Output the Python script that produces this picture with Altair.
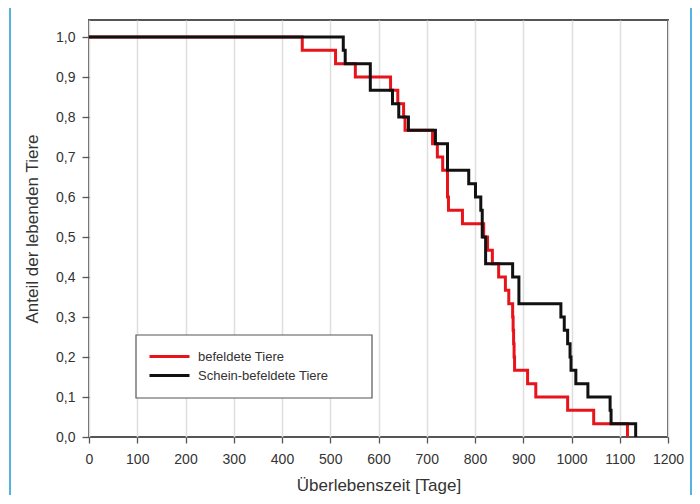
import altair as alt
import pandas as pd

series_names = ["befeldete Tiere", "Schein-befeldete Tiere"]
series_colors = ["#e8141b", "#111111"]

red_days = [0, 442, 511, 552, 625, 640, 652, 655, 712, 722, 733, 743, 745, 774, 818,
            826, 836, 849, 863, 870, 878, 879, 880, 881, 882, 909, 926, 992, 1046, 1116]
red_surv = [1.0, 0.967, 0.933, 0.9, 0.867, 0.833, 0.8, 0.767, 0.733, 0.7, 0.667, 0.6, 0.567,
            0.533, 0.5, 0.467, 0.433, 0.4, 0.367, 0.333, 0.3, 0.267, 0.233, 0.2, 0.167,
            0.133, 0.1, 0.067, 0.033, 0.0]

black_days = [0, 527, 531, 583, 629, 642, 662, 718, 743, 787, 801, 812, 815, 822, 878,
              891, 978, 985, 992, 997, 999, 1009, 1034, 1080, 1082, 1133]
black_surv = [1.0, 0.967, 0.933, 0.867, 0.833, 0.8, 0.767, 0.733, 0.667, 0.633, 0.6, 0.567,
              0.5, 0.433, 0.4, 0.333, 0.3, 0.267, 0.233, 0.2, 0.167, 0.133, 0.1, 0.067,
              0.033, 0.0]

x_ticks = [0, 100, 200, 300, 400, 500, 600, 700, 800, 900, 1000, 1100, 1200]
y_ticks = [0.0, 0.1, 0.2, 0.3, 0.4, 0.5, 0.6, 0.7, 0.8, 0.9, 1.0]

rows = []
for d, s in zip(red_days, red_surv):
    rows.append({"Tage": d, "Anteil": s, "Gruppe": series_names[0]})
for d, s in zip(black_days, black_surv):
    rows.append({"Tage": d, "Anteil": s, "Gruppe": series_names[1]})
df = pd.DataFrame(rows)

FONT = "Liberation Sans"

lines = alt.Chart(df).mark_line(interpolate="step-after", strokeWidth=3, clip=True).encode(
    x=alt.X("Tage:Q",
            scale=alt.Scale(domain=[0, 1200], nice=False, zero=True),
            axis=alt.Axis(values=x_ticks, format="d", labelOverlap=False, labelFlush=False,
                          title="Überlebenszeit [Tage]", grid=True,
                          gridColor="#dedede", gridWidth=1.5, domain=False,
                          tickColor="#555555", tickSize=6, tickWidth=1.3,
                          labelFontSize=14, labelColor="#333333", labelPadding=9,
                          labelFont=FONT, titleFont=FONT, titleFontSize=17,
                          titleFontWeight="normal", titleColor="#333333", titlePadding=11)),
    y=alt.Y("Anteil:Q",
            scale=alt.Scale(domain=[0, 1.0425], nice=False, zero=True),
            axis=alt.Axis(values=y_ticks, title="Anteil der lebenden Tiere", grid=False,
                          labelExpr="replace(format(datum.value, '.1f'), '.', ',')",
                          labelOverlap=False, labelFlush=False,
                          domain=False, tickColor="#555555", tickSize=7, tickWidth=1.3,
                          labelFontSize=14, labelColor="#333333", labelPadding=7,
                          labelFont=FONT, titleFont=FONT, titleFontSize=17,
                          titleFontWeight="normal", titleColor="#333333", titlePadding=14)),
    color=alt.Color("Gruppe:N",
                    scale=alt.Scale(domain=series_names, range=series_colors),
                    legend=alt.Legend(orient="none", legendX=74, legendY=330, title=None,
                                      symbolType="M-4,0H4", symbolSize=100,
                                      symbolStrokeWidth=3, labelFontSize=13,
                                      labelColor="#333333", labelFont=FONT, padding=0,
                                      rowPadding=5, labelOffset=22)),
)

one = pd.DataFrame({"k": [0]})
border = alt.Chart(one).mark_rect(fillOpacity=0, stroke="#1e9bd7", strokeWidth=1.5).encode(
    x=alt.value(-79), x2=alt.value(602), y=alt.value(-13), y2=alt.value(520)
)
legend_box = alt.Chart(one).mark_rect(fill="white", stroke="#555555", strokeWidth=1.2).encode(
    x=alt.value(47), x2=alt.value(283), y=alt.value(315), y2=alt.value(378)
)

chart = alt.layer(border, legend_box, lines).properties(
    width=579, height=417,
    autosize=alt.AutoSizeParams(type="none"),
    padding={"left": 81, "top": 12, "right": 24, "bottom": 58},
).configure_view(stroke="#555555", strokeWidth=2)

chart.save("out.html", embed_options={"renderer": "svg", "actions": False})
